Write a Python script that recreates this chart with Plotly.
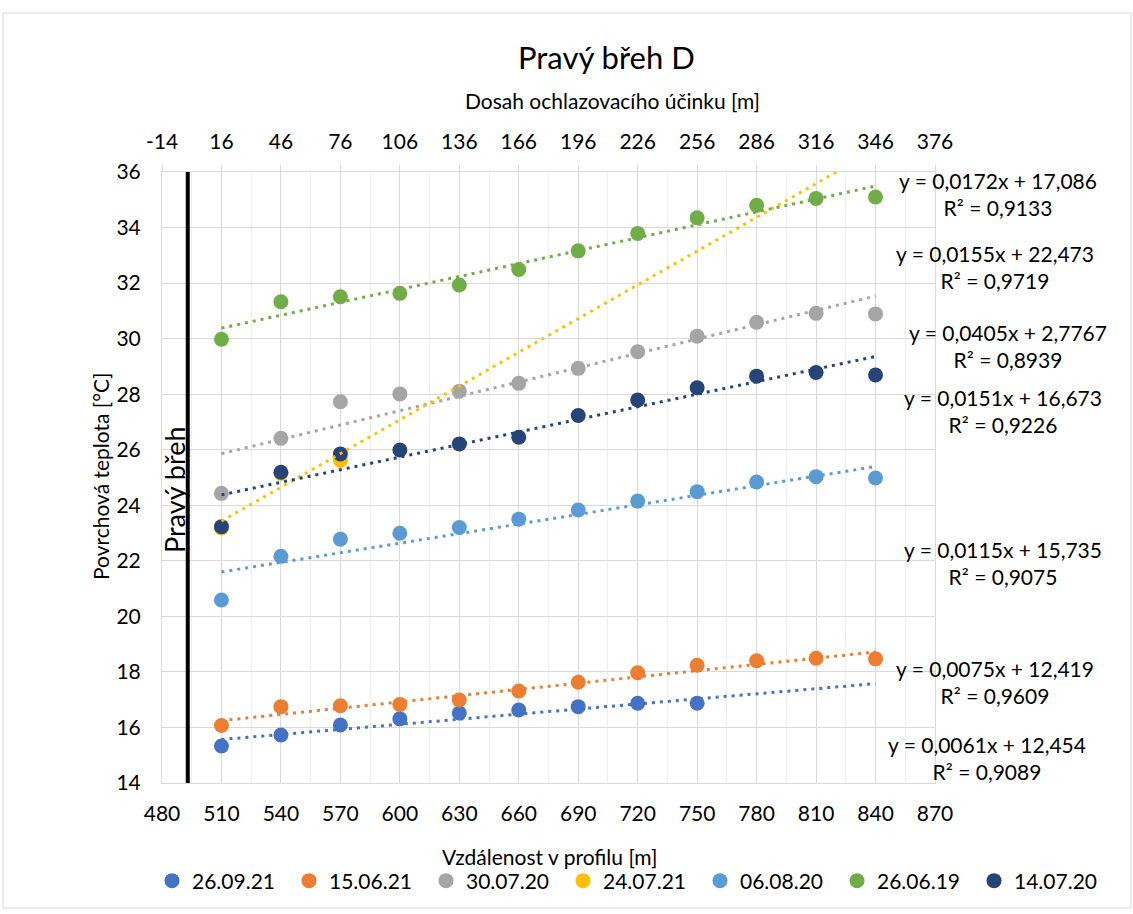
import plotly.graph_objects as go

# ---- data -------------------------------------------------------------
distance = [510, 540, 570, 600, 630, 660, 690, 720, 750, 780, 810, 840]

dates = ["26.09.21", "15.06.21", "30.07.20", "24.07.21", "06.08.20", "26.06.19", "14.07.20"]

t_260921 = [15.33, 15.73, 16.09, 16.31, 16.52, 16.63, 16.75, 16.87, 16.87]
t_150621 = [16.07, 16.75, 16.78, 16.83, 16.99, 17.31, 17.63, 17.97, 18.24, 18.40, 18.49, 18.47]
t_300720 = [24.43, 26.41, 27.73, 28.01, 28.11, 28.39, 28.93, 29.53, 30.09, 30.59, 30.91, 30.89]
t_240721 = [23.18, 25.15, 25.61]
t_060820 = [20.59, 22.16, 22.78, 22.99, 23.20, 23.50, 23.83, 24.15, 24.49, 24.84, 25.03, 24.98]
t_260619 = [29.98, 31.33, 31.51, 31.63, 31.93, 32.49, 33.16, 33.79, 34.35, 34.80, 35.05, 35.10]
t_140720 = [23.23, 25.19, 25.85, 25.99, 26.21, 26.45, 27.23, 27.79, 28.23, 28.65, 28.78, 28.69]

temps = [t_260921, t_150621, t_300720, t_240721, t_060820, t_260619, t_140720]

# linear trendlines: y = slope * x + intercept
slopes = [0.0061, 0.0075, 0.0172, 0.0405, 0.0115, 0.0155, 0.0151]
intercepts = [12.454, 12.419, 17.086, 2.7767, 15.735, 22.473, 16.673]
r_squared = [0.9089, 0.9609, 0.9133, 0.8939, 0.9075, 0.9719, 0.9226]

trend_span = [510, 840]

# bank position on the "Dosah" axis
bank_distance = -1

bottom_ticks = [480, 510, 540, 570, 600, 630, 660, 690, 720, 750, 780, 810, 840, 870]
top_ticks = [-14, 16, 46, 76, 106, 136, 166, 196, 226, 256, 286, 316, 346, 376]
y_ticks = [14, 16, 18, 20, 22, 24, 26, 28, 30, 32, 34, 36]

# ---- styling ----------------------------------------------------------
colors = ["#4472C4", "#ED7D31", "#A5A5A5", "#FFC000", "#5B9BD5", "#70AD47", "#264478"]
FONT = "Lato, Calibri, sans-serif"
W, H = 1133, 914
L, R, T, B = 162, 935, 172, 783          # plot area in pixels


def px(x):
    return (x - L) / (R - L)


def py(y):
    return (B - y) / (B - T)


# equation label centres (pixels), one per series
label_x = [987, 995, 998, 1008, 1003, 995, 1003]
label_y = [758, 682, 194, 346, 563, 267, 411]


def num(v):
    return f"{v:g}".replace(".", ",")


fig = go.Figure()

# measured points
for name, col, ys in zip(dates, colors, temps):
    fig.add_trace(go.Scatter(
        x=distance[:len(ys)], y=ys, mode="markers", name=name,
        marker=dict(color=col, size=15, line=dict(width=0)),
    ))

# dotted trendlines on top of the points
for col, a, b in zip(colors, slopes, intercepts):
    fig.add_trace(go.Scatter(
        x=trend_span, y=[a * x + b for x in trend_span], mode="lines",
        line=dict(color=col, width=3, dash="3px,5px"),
        showlegend=False, hoverinfo="skip",
    ))

# river bank line
fig.add_trace(go.Scatter(
    x=[bank_distance, bank_distance], y=[y_ticks[0], y_ticks[-1]], xaxis="x2",
    mode="lines", line=dict(color="black", width=4),
    showlegend=False, hoverinfo="skip",
))

annotations = []
for a, b, r2, lx, ly in zip(slopes, intercepts, r_squared, label_x, label_y):
    annotations.append(dict(
        text=f"y = {num(a)}x + {num(b)}<br>R² = {num(r2)}",
        x=px(lx), y=py(ly), xref="paper", yref="paper",
        xanchor="center", yanchor="middle", align="center", showarrow=False,
        font=dict(family=FONT, size=21, color="#000000"),
    ))

annotations += [
    dict(text="Pravý břeh", x=px(174), y=py(490), xref="paper", yref="paper",
         textangle=-90, showarrow=False, xanchor="center", yanchor="middle",
         font=dict(family=FONT, size=27, color="#000000")),
    dict(text="Dosah ochlazovacího účinku [m]", x=px(612), y=py(101),
         xref="paper", yref="paper", showarrow=False,
         xanchor="center", yanchor="middle",
         font=dict(family=FONT, size=21, color="#000000")),
    dict(text="Vzdálenost v profilu [m]", x=px(549), y=py(856),
         xref="paper", yref="paper", showarrow=False,
         xanchor="center", yanchor="middle",
         font=dict(family=FONT, size=21, color="#000000")),
    dict(text="Povrchová teplota [°C]", x=px(100), y=py(477),
         xref="paper", yref="paper", showarrow=False, textangle=-90,
         xanchor="center", yanchor="middle",
         font=dict(family=FONT, size=21, color="#000000")),
    dict(text="Pravý břeh D", x=px(606), y=py(57),
         xref="paper", yref="paper", showarrow=False,
         xanchor="center", yanchor="middle",
         font=dict(family=FONT, size=31, color="#000000")),
]

GRID = "#d9d9d9"
fig.update_layout(
    width=W, height=H,
    margin=dict(l=L, r=W - R, t=T, b=H - B),
    paper_bgcolor="white", plot_bgcolor="white",
    font=dict(family=FONT, size=21, color="#000000"),
    showlegend=True,
    legend=dict(orientation="h", x=px(1111), y=py(881), xanchor="right",
                yanchor="middle", entrywidth=92, entrywidthmode="pixels",
                font=dict(family=FONT, size=21), itemsizing="trace",
                bgcolor="rgba(0,0,0,0)"),
    xaxis=dict(range=[bottom_ticks[0], bottom_ticks[-1]], tickvals=bottom_ticks,
               ticktext=[str(v) for v in bottom_ticks],
               showgrid=True, gridcolor=GRID, gridwidth=1,
               minor=dict(tick0=495, dtick=30, showgrid=True, gridcolor="#efefef"),
               showline=True, linecolor=GRID, linewidth=1, zeroline=False,
               ticks="", ticklabelstandoff=12),
    xaxis2=dict(range=[top_ticks[0], top_ticks[-1]], overlaying="x", side="top",
                anchor="y", tickvals=top_ticks, ticktext=[str(v) for v in top_ticks],
                showgrid=False, showline=True, linecolor=GRID, linewidth=1,
                zeroline=False, ticks="outside", ticklen=6, tickcolor=GRID,
                ticklabelstandoff=8),
    yaxis=dict(range=[y_ticks[0], y_ticks[-1]], tickvals=y_ticks,
               ticktext=[str(v) for v in y_ticks],
               showgrid=True, gridcolor=GRID, gridwidth=1,
               showline=True, linecolor=GRID, linewidth=1, mirror=True,
               zeroline=False, ticks="", ticklabelstandoff=16),
    annotations=annotations,
    shapes=[dict(type="rect", xref="paper", yref="paper",
                 x0=px(3), x1=px(1131), y0=py(908), y1=py(13),
                 line=dict(color="#d9d9d9", width=1), layer="below")],
)

fig.write_html("out.html")
